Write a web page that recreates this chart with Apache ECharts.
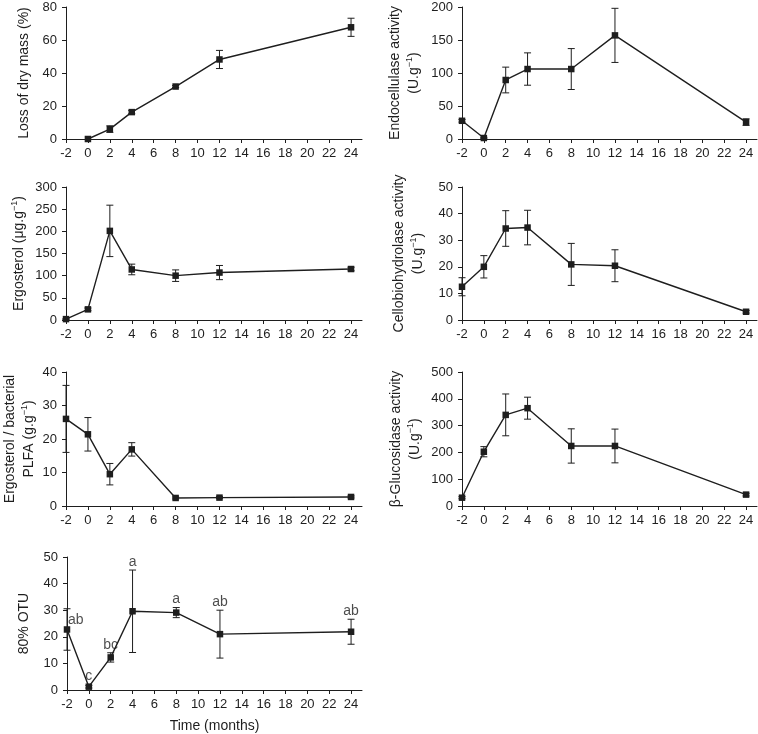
<!DOCTYPE html>
<html><head><meta charset="utf-8">
<script src="https://cdn.jsdelivr.net/npm/echarts@6/dist/echarts.min.js"></script>
<style>html,body{margin:0;padding:0;background:#fff}#c{width:758px;height:734px}</style>
</head><body><div id="c"></div><script>
// ---- data ----
const xTicks = [-2, 0, 2, 4, 6, 8, 10, 12, 14, 16, 18, 20, 22, 24];
const months = [-2, 0, 2, 4, 8, 12, 24];

const dryMass      = [null, 0, 6, 16.3, 31.8, 48.2, 67.7];
const dryMassErr   = [null, 0, 2, 1, 0.6, 5.5, 5.5];

const endocell     = [27.6, 1.5, 89.4, 106, 106, 157, 25.6];
const endocellErr  = [2, 1, 19.5, 24.5, 31, 41, 5];

const ergosterol    = [2, 24, 201, 114, 100, 107, 115];
const ergosterolErr = [1, 3, 58, 12, 13, 16, 4];

const cellobio     = [12.5, 20, 34.4, 34.75, 20.9, 20.4, 3.1];
const cellobioErr  = [3.4, 4.2, 6.7, 6.5, 7.9, 6, 0.5];

const ergPlfa      = [26, 21.4, 9.5, 16.9, 2.4, 2.5, 2.7];
const ergPlfaErr   = [10, 5, 3.2, 2, 0.3, 0.3, 0.3];

const glucosid     = [31, 202.5, 340, 365, 224, 224, 42.5];
const glucosidErr  = [4, 19, 78, 41, 64, 63, 5];

const otu          = [22.75, 1.25, 12.25, 29.6, 29.1, 21, 21.9];
const otuErr       = [7.8, 0.5, 1.75, 15.5, 1.9, 9, 4.7];
const otuLetters   = ['ab', 'c', 'bc', 'a', 'a', 'ab', 'ab'];

// ---- layout ----
const panels = [
  {g:{left:66, top:7, width:296, height:132}, max:80, step:20, v:dryMass, e:dryMassErr,
   name:'{a|Loss of dry mass (%)}', gap:32},
  {g:{left:462, top:7, width:295, height:132}, max:200, step:50, v:endocell, e:endocellErr,
   name:'{a|Endocellulase activity}\n{a|(U.g}{s|−1}{a|)}', gap:38},
  {g:{left:66, top:187, width:296, height:133}, max:300, step:50, v:ergosterol, e:ergosterolErr,
   name:'{a|Ergosterol (μg.g}{s|−1}{a|)}', gap:37},
  {g:{left:462, top:187, width:295, height:133}, max:50, step:10, v:cellobio, e:cellobioErr,
   name:'{a|Cellobiohydrolase activity}\n{a|(U.g}{s|−1}{a|)}', gap:34},
  {g:{left:66, top:372, width:296, height:134}, max:40, step:10, v:ergPlfa, e:ergPlfaErr,
   name:'{a|Ergosterol / bacterial}\n{a|PLFA (g.g}{s|−1}{a|)}', gap:27},
  {g:{left:462, top:372, width:295, height:134}, max:500, step:100, v:glucosid, e:glucosidErr,
   name:'{a|β-Glucosidase activity}\n{a|(U.g}{s|−1}{a|)}', gap:37},
  {g:{left:67, top:557, width:295, height:133}, max:50, step:10, v:otu, e:otuErr,
   name:'{a|80% OTU}', gap:33, letters:otuLetters, xname:'Time (months)'}
];

const INK = '#1e1e1e';
const FONT = 'Liberation Sans, Arial, Helvetica, sans-serif';
const grid = [], xAxis = [], yAxis = [], series = [];

panels.forEach((p, i) => {
  grid.push(p.g);
  xAxis.push({
    gridIndex:i, type:'value', min:-2, max:25,
    name: p.xname || '', nameLocation:'middle', nameGap:29,
    nameTextStyle:{color:INK, fontSize:14, fontFamily:FONT},
    axisLine:{onZero:false, lineStyle:{color:INK, width:1}},
    axisTick:{customValues:xTicks, length:4, lineStyle:{color:INK}},
    axisLabel:{customValues:xTicks, color:INK, fontSize:13, fontFamily:FONT, margin:8},
    splitLine:{show:false}
  });
  yAxis.push({
    gridIndex:i, type:'value', min:0, max:p.max, interval:p.step,
    name:p.name, nameLocation:'middle', nameGap:p.gap, nameRotate:90,
    nameTextStyle:{color:INK, fontFamily:FONT, rich:{
      a:{fontSize:14, lineHeight:19, color:INK, fontFamily:FONT},
      s:{fontSize:9, lineHeight:9, verticalAlign:'top', color:INK, fontFamily:FONT}
    }},
    axisLine:{show:true, onZero:false, lineStyle:{color:INK, width:1}},
    axisTick:{show:true, length:4, lineStyle:{color:INK}},
    axisLabel:{color:INK, fontSize:13, fontFamily:FONT, margin:9},
    splitLine:{show:false}
  });
  const pts = [], errs = [];
  months.forEach((m, k) => {
    if (p.v[k] == null) return;
    pts.push([m, p.v[k]]);
    errs.push([m, p.v[k], p.e[k]]);
  });
  series.push({
    type:'custom', xAxisIndex:i, yAxisIndex:i, data:errs, z:2, silent:true,
    renderItem(params, api){
      const x = api.value(0), y = api.value(1), e = api.value(2);
      if (!e) return null;
      const t = api.coord([x, y + e]), b = api.coord([x, y - e]);
      const cw = 3.5, st = {stroke:INK, lineWidth:1};
      return {type:'group', children:[
        {type:'line', shape:{x1:t[0], y1:t[1], x2:b[0], y2:b[1]}, style:st},
        {type:'line', shape:{x1:t[0]-cw, y1:t[1], x2:t[0]+cw, y2:t[1]}, style:st},
        {type:'line', shape:{x1:b[0]-cw, y1:b[1], x2:b[0]+cw, y2:b[1]}, style:st}
      ]};
    }
  });
  series.push({
    type:'line', xAxisIndex:i, yAxisIndex:i, data:pts, z:3, silent:true,
    symbol:'rect', symbolSize:6.5, showSymbol:true,
    lineStyle:{color:INK, width:1.4}, itemStyle:{color:INK}
  });
  if (p.letters) {
    const lab = months.map((m, k) => {
      const item = {value:[m, p.v[k] + p.e[k], p.letters[k]]};
      if (k === 0) { item.value = [m, p.v[k], p.letters[k]];
        item.label = {position:'right', offset:[0,-9]}; }
      if (p.e[k] < 1) item.value = [m, p.v[k] + 1, p.letters[k]];
      return item;
    });
    series.push({
      type:'scatter', xAxisIndex:i, yAxisIndex:i, data:lab, symbolSize:0, silent:true, z:4,
      label:{show:true, position:'top', distance:1, color:INK, fontSize:14, fontFamily:FONT,
        formatter: d => d.value[2]}
    });
  }
});

const chart = echarts.init(document.getElementById('c'), null, {renderer:'canvas'});
chart.setOption({animation:false, backgroundColor:'#fff', grid, xAxis, yAxis, series});
</script></body></html>
